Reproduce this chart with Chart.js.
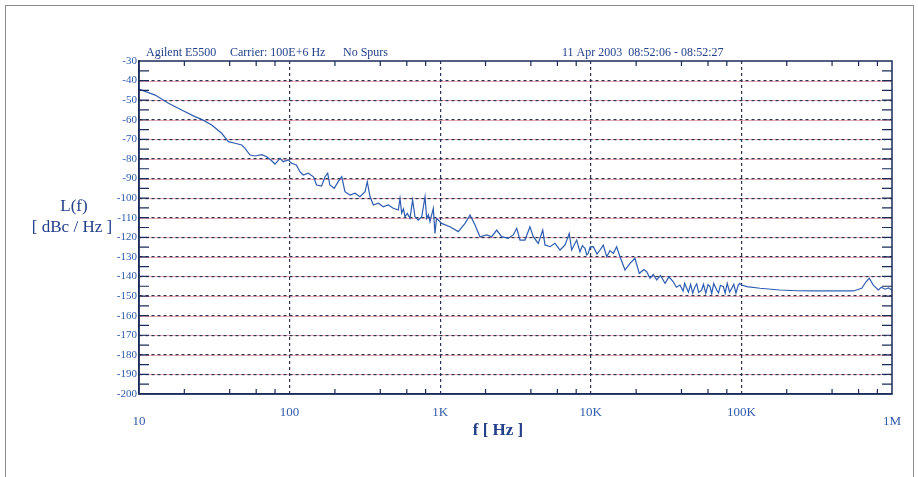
<!DOCTYPE html>
<html>
<head>
<meta charset="utf-8">
<script src="https://cdn.jsdelivr.net/npm/chart.js@4.4.1/dist/chart.umd.min.js"></script>
<style>
  html, body { margin:0; padding:0; background:#fff; }
  #wrap { position:relative; width:918px; height:477px; overflow:hidden; }
  #cadre { position:absolute; left:5px; top:5px; width:907px; height:490px; border:1px solid #8c8c8c; }
  canvas { position:absolute; left:0; top:0; }
</style>
</head>
<body>
<div id="wrap">
  <div id="cadre"></div>
  <canvas id="grafico" width="918" height="477"></canvas>
</div>
<script>
/* ruido de fase — Agilent E5500, L(f) em dBc/Hz */

// ----------------------------------------- Dados ----------------------------------------- //
const frequencias = [
  10, 12.8, 15.7, 19.2, 23.5, 26.1, 30.4, 35.4, 39.2, 43.4, 48.1, 50.6, 54.6, 58.9, 65.3, 70.5,
  76, 80, 86.3, 90.8, 98, 103, 111, 117, 123, 133, 144, 151, 163, 172, 179, 185, 198, 210, 222,
  233, 252, 272, 293, 317, 328, 342, 360, 388, 419, 452, 488, 527, 541, 555, 570, 584, 605, 630,
  656, 680, 716, 754, 793, 813, 835, 855, 900, 923, 945, 971, 1023, 1161, 1319, 1462, 1578, 1703,
  1837, 2036, 2198, 2372, 2560, 2832, 3055, 3221, 3388, 3656, 3945, 4150, 4478, 4797, 4966, 5358,
  5781, 6252, 6745, 7194, 7464, 8054, 8472, 8800, 9141, 9400, 9616, 9900, 10400, 11000, 11510, 12100,
  12760, 13400, 14100, 14850, 15630, 16870, 18200, 19640, 20990, 22500, 23500, 24720, 26000, 27400,
  29000, 31120, 33000, 35320, 37000, 39100, 41000, 42000, 43340, 44500, 46000, 47500, 49200, 50500,
  52000, 54500, 56000, 58000, 60000, 61900, 63500, 65500, 68600, 70500, 72500, 75900, 78000, 80500,
  83500, 86300, 89000, 92000, 95300, 97500, 100400, 108400, 133000, 180300, 232800, 300600, 407400,
  553400, 629500, 671800, 706300, 751000, 811000, 850000, 899000, 950000, 1000000
];
const niveis = [
  -44.3, -47.4, -51.6, -55.0, -58.4, -59.8, -62.7, -66.9, -71.2, -72.0, -72.9, -74.6, -78.0, -78.5, -77.8, -78.9,
  -80.9, -82.6, -79.7, -81.4, -80.5, -82.2, -83.1, -86.5, -88.2, -87.3, -89.1, -93.3, -93.8, -89.1, -87.3, -93.3, -95.0, -91.6, -89.1,
  -96.7, -98.4, -97.5, -99.3, -96.7, -91.6, -99.3, -103.5, -102.6, -104.4, -103.5, -105.2, -106.1, -100.1, -107.7, -105.5, -109.5, -107.8, -110.3,
  -101.0, -109.5, -111.2, -109.5, -99.3, -110.3, -108.5, -112.0, -105.2, -118.0, -110.5, -111.2, -112.9, -114.6, -117.1, -112.9, -108.6, -113.7,
  -119.7, -118.8, -119.7, -116.3, -119.7, -120.5, -118.8, -115.4, -121.4, -121.4, -114.6, -119.7, -123.1, -116.3, -123.9, -124.8,
  -123.1, -126.5, -123.9, -118.0, -126.5, -121.4, -127.4, -124.2, -125.6, -129.0, -128.2, -124.9, -124.8, -128.6, -126.5, -124.0,
  -129.9, -126.8, -128.2, -124.8, -129.9, -136.7, -133.3, -130.7, -138.4, -136.5, -137.6, -140.9, -139.0, -141.8,
  -139.5, -143.5, -140.2, -142.7, -145.5, -144.4, -147.5, -143.5, -146.0, -148.0, -144.0, -148.5, -145.2, -143.8,
  -148.2, -146.9, -144.0, -148.6, -144.2, -145.2, -148.8, -143.6, -146.9, -148.4, -144.5, -145.2, -148.5, -143.5,
  -148.0, -146.0, -144.0, -148.5, -144.4, -143.5, -144.4, -145.2, -146.0, -146.9, -147.3, -147.4, -147.4,
  -147.4, -146.0, -142.7, -140.9, -144.4, -146.9, -145.5, -146.5, -145.8, -147.0
];

const decadas  = [10, 100, 1000, 10000, 100000, 1000000];
const rotulosX = ['10', '100', '1K', '10K', '100K', '1M'];
const cabecalho = ['Agilent E5500', 'Carrier: 100E+6 Hz', 'No Spurs', '11 Apr 2003  08:52:06 - 08:52:27'];

// ----------------------------------------- Estilo ----------------------------------------- //
const SERIF = "'Liberation Serif','DejaVu Serif',serif";
const COR_TEXTO = '#2e5bab';
const COR_TITULO = '#23408a';
const COR_MOLDURA = '#1b2b5a';
const COR_GRELHA = '#2a3352';
const TRANSP = 'rgba(0,0,0,0)';

// ----------------------------------------- Plugin: moldura, traços internos e textos ----------------------------------------- //
const moldura = {
  id: 'moldura',
  beforeDraw(chart) {            // linha vermelha por baixo do pontilhado horizontal
    const { ctx, chartArea: a, scales: { y } } = chart;
    ctx.save();
    ctx.strokeStyle = 'rgba(214,72,96,0.45)';
    ctx.lineWidth = 1;
    for (let v = -40; v >= -190; v -= 10) {
      const py = Math.round(y.getPixelForValue(v)) + 0.5;
      ctx.beginPath(); ctx.moveTo(a.left, py); ctx.lineTo(a.right, py); ctx.stroke();
    }
    ctx.restore();
  },
  afterDraw(chart) {
    const { ctx, chartArea: a, scales: { x, y } } = chart;
    ctx.save();
    ctx.strokeStyle = COR_MOLDURA;
    ctx.lineWidth = 1.5;
    ctx.strokeRect(a.left, a.top, a.right - a.left, a.bottom - a.top);

    // traços a cada 5 dB, dos dois lados
    ctx.lineWidth = 1.2;
    for (let v = -35; v >= -195; v -= 5) {
      const py = y.getPixelForValue(v);
      ctx.beginPath();
      ctx.moveTo(a.left, py); ctx.lineTo(a.left + 10, py);
      ctx.moveTo(a.right, py); ctx.lineTo(a.right - 10, py);
      ctx.stroke();
    }
    // traços menores em 2,4,6,8 de cada década
    decadas.slice(0, -1).forEach(d => {
      [2, 4, 6, 8].forEach(m => {
        const px = x.getPixelForValue(d * m);
        ctx.beginPath();
        ctx.moveTo(px, a.top); ctx.lineTo(px, a.top + 5);
        ctx.moveTo(px, a.bottom); ctx.lineTo(px, a.bottom - 5);
        ctx.stroke();
      });
    });

    // cabeçalho
    ctx.fillStyle = COR_TITULO;
    ctx.font = `12px ${SERIF}`;
    ctx.textAlign = 'left';
    ctx.textBaseline = 'alphabetic';
    ctx.fillText(cabecalho[0], 146, 56);
    ctx.fillText(cabecalho[1], 230, 56);
    ctx.fillText(cabecalho[2], 343, 56);
    ctx.fillText(cabecalho[3], 562, 56);

    // títulos dos eixos
    ctx.textAlign = 'center';
    ctx.textBaseline = 'middle';
    ctx.font = `17px ${SERIF}`;
    ctx.fillText('L(f)', 74, 207);
    ctx.fillText('[ dBc / Hz ]', 72, 228);
    ctx.font = `bold 17px ${SERIF}`;
    ctx.fillText('f [ Hz ]', 498, 431);
    ctx.restore();
  }
};

// ----------------------------------------- Gráfico ----------------------------------------- //
new Chart(document.getElementById('grafico'), {
  type: 'line',
  data: {
    datasets: [{
      data: frequencias.map((f, i) => ({ x: f, y: niveis[i] })),
      borderColor: '#2f5db2',
      borderWidth: 1.2,
      pointRadius: 0,
      tension: 0,
      fill: false
    }]
  },
  options: {
    responsive: false,
    animation: false,
    devicePixelRatio: 1,
    layout: { padding: { left: 0, top: 61, right: 26, bottom: 0 } },
    plugins: { legend: { display: false }, tooltip: { enabled: false } },
    scales: {
      x: {
        type: 'logarithmic',
        min: 10, max: 1000000,
        afterBuildTicks: s => { s.ticks = decadas.map(v => ({ value: v })); },
        afterFit: s => { s.height = 83; },
        ticks: {
          autoSkip: false, maxRotation: 0, padding: 12, color: COR_TEXTO,
          // 10 e 1M ficam mais abaixo que os outros rótulos
          font: c => ({ family: SERIF, size: 13, lineHeight: (c.index === 0 || c.index === 5) ? '32px' : '14px' }),
          callback: (v, i) => rotulosX[i]
        },
        grid: {
          drawTicks: false, lineWidth: 1.2,
          color: c => (c.index === 0 || c.index === 5) ? TRANSP : COR_GRELHA
        },
        border: { color: COR_MOLDURA, width: 1.5, dash: [3, 3] }
      },
      y: {
        min: -200, max: -30,
        afterFit: s => { s.width = 139; },
        ticks: {
          stepSize: 10, padding: 2, color: COR_TEXTO,
          font: { family: SERIF, size: 11 },
          callback: v => String(v)
        },
        grid: {
          drawTicks: false, lineWidth: 1.2,
          color: c => (c.tick && (c.tick.value === -30 || c.tick.value === -200)) ? TRANSP : COR_GRELHA
        },
        border: { color: COR_MOLDURA, width: 1.5, dash: [3, 3] }
      }
    }
  },
  plugins: [moldura]
});
</script>
</body>
</html>
